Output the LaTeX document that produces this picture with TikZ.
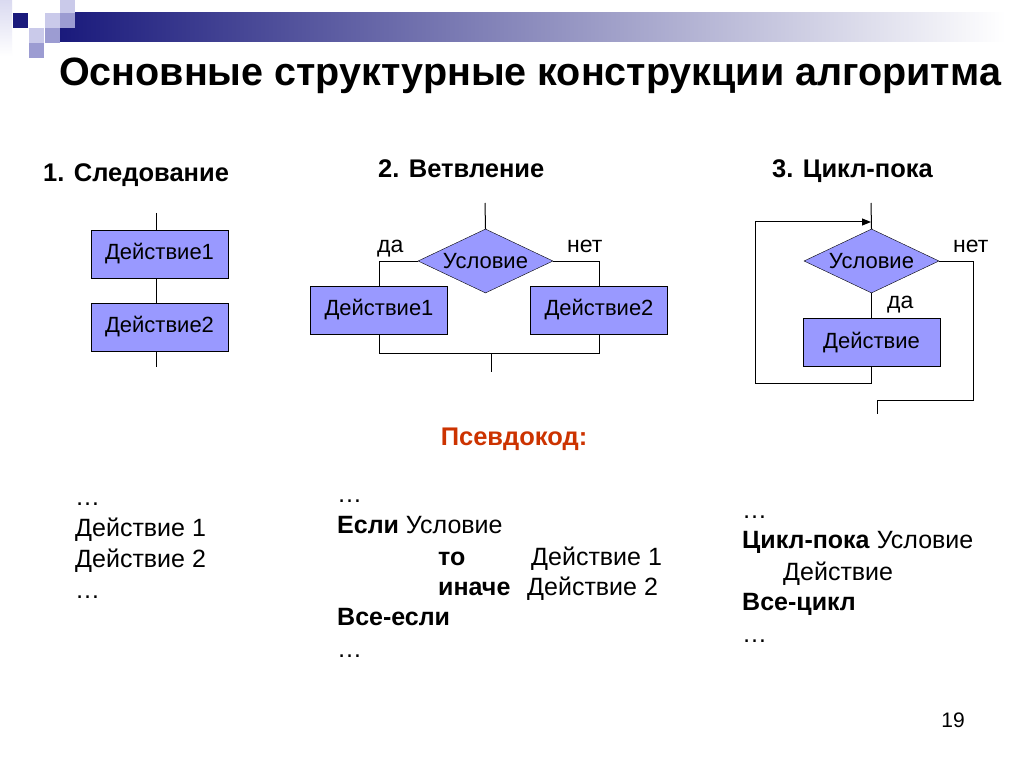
\documentclass[tikz,border=0pt]{standalone}
\usepackage{fontspec}
\setmainfont{Liberation Sans}
\usetikzlibrary{shapes.geometric,arrows.meta}
\definecolor{boxfill}{HTML}{9999FF}
\definecolor{navy}{HTML}{1A1A7C}
\definecolor{lightlav}{HTML}{CACAEA}
\definecolor{medlav}{HTML}{9C9CD2}
\definecolor{pseudored}{HTML}{CC3300}
\tikzset{
  actbox/.style={draw=black, fill=boxfill, minimum width=137pt, minimum height=48pt, inner sep=0pt, font=\fontsize{22}{26}\selectfont},
  cond/.style={draw=black, fill=boxfill, diamond, aspect=2, minimum width=135pt, minimum height=64pt, inner sep=0pt, font=\fontsize{22}{26}\selectfont},
  conn/.style={draw=black, line width=1pt},
  lbl/.style={font=\fontsize{23}{27}\selectfont, anchor=base west, inner sep=0pt},
  head/.style={font=\fontsize{25.5}{30}\selectfont\bfseries, anchor=base west, inner sep=0pt},
  code/.style={font=\fontsize{25}{30}\selectfont, anchor=base west, inner sep=0pt},
}
\begin{document}
\begin{tikzpicture}[x=1pt,y=-1pt]
\useasboundingbox (0,0) rectangle (1024,767);
\fill[white] (0,0) rectangle (1024,767);
% header decoration
\shade[left color=navy, right color=white] (60,13) rectangle (1005,42);
\shade[top color=lightlav!70, bottom color=white] (0,0) rectangle (12,56);
\fill[navy] (13,13) rectangle (28,28);
\fill[lightlav] (45,13) rectangle (60,28);
\fill[lightlav] (60,0) rectangle (75,13);
\fill[medlav] (60,13) rectangle (75,28);
\fill[lightlav] (29,28) rectangle (44,43);
\fill[medlav] (45,28) rectangle (60,43);
\fill[medlav] (29,43) rectangle (44,58);
% title
\node[font=\fontsize{39.5}{46}\selectfont\bfseries, anchor=base, inner sep=0pt] (title) at (530,86) {Основные структурные конструкции алгоритма};
% headings
\node[head] (h1) at (43,182) {1. Следование};
\node[head] (h2) at (378,178) {2. Ветвление};
\node[head] (h3) at (772,178) {3. Цикл-пока};
% 1. sequence
\coordinate (t1) at (156,213);
\node[actbox] (a11) at (159.5,254) {Действие1};
\node[actbox] (a12) at (159.5,327) {Действие2};
\coordinate (b1) at (156,367);
\draw[conn] (t1) -- (t1 |- a11.north);
\draw[conn] (a11.south -| t1) -- (t1 |- a12.north);
\draw[conn] (a12.south -| t1) -- (b1);
% 2. branching
\coordinate (t2) at (485,203);
\node[cond] (c2) at (485.5,261) {Условие};
\node[actbox] (a21) at (379,310) {Действие1};
\node[actbox] (a22) at (599,310) {Действие2};
\coordinate (m2) at (491,353.5);
\coordinate (e2) at (491,372);
\draw[conn] (t2) -- (c2.north);
\draw[conn] (c2.west) -| (a21.north);
\draw[conn] (c2.east) -| (a22.north);
\draw[conn] (a21.south) |- (m2) -| (a22.south);
\draw[conn] (m2) -- (e2);
\node[lbl] (yes2) at (377,252) {да};
\node[lbl] (no2) at (567,252) {нет};
% 3. loop
\coordinate (t3) at (871,203);
\node[cond] (c3) at (871.5,261) {Условие};
\node[actbox] (a3) at (871.5,342.5) {Действие};
\coordinate (lb) at (755,383);
\coordinate (lt) at (755,222);
\coordinate (r3) at (973,400);
\coordinate (x3) at (877,414);
\draw[conn] (t3) -- (c3.north);
\draw[conn] (c3.south) -- (a3.north);
\draw[conn, -{Triangle[length=9pt,width=7pt]}] (a3.south) |- (lb) -- (lt) -- (lt -| t3);
\draw[conn] (c3.east) -| (r3) -| (x3);
\node[lbl] (no3) at (953,252) {нет};
\node[lbl] (yes3) at (887,308) {да};
% pseudocode
\node[font=\fontsize{25.5}{30}\selectfont\bfseries, text=pseudored, anchor=base, inner sep=0pt] (ps) at (514,445) {Псевдокод:};
% left column
\node[code] (l0) at (75,505) {…};
\node[code] (l1) at (75,536) {Действие 1};
\node[code] (l2) at (75,567) {Действие 2};
\node[code] (l3) at (75,598) {…};
% middle column
\node[code] (m0) at (337,502) {…};
\node[code] (m1) at (337,533) {\textbf{Если} Условие};
\node[code] (m2a) at (438,565) {\textbf{то}};
\node[code] (m2b) at (531,565) {Действие 1};
\node[code] (m3a) at (438,595) {\textbf{иначе}};
\node[code] (m3b) at (527,595) {Действие 2};
\node[code] (m4) at (337,625) {\textbf{Все-если}};
\node[code] (m5) at (337,657) {…};
% right column
\node[code] (r0) at (742,518) {…};
\node[code] (r1) at (742,548) {\textbf{Цикл-пока} Условие};
\node[code] (r2) at (783,580) {Действие};
\node[code] (r3t) at (742,610) {\textbf{Все-цикл}};
\node[code] (r4) at (742,642) {…};
% page number
\node[font=\fontsize{21}{25}\selectfont, anchor=base, inner sep=0pt] (pg) at (953,727) {19};
\end{tikzpicture}
\end{document}
